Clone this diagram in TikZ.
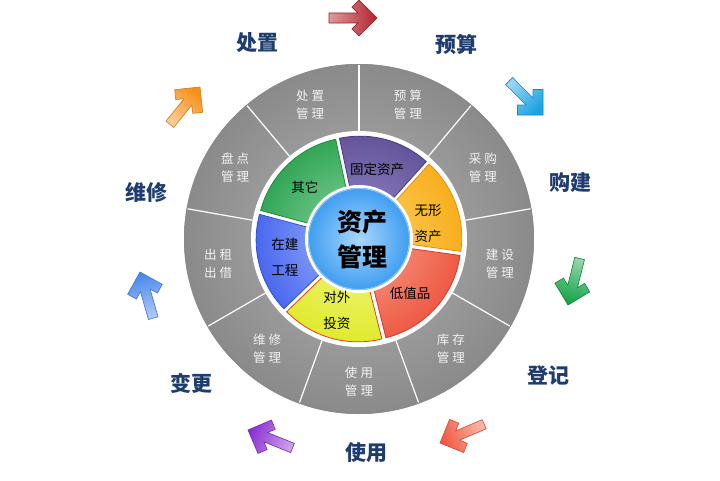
\documentclass[tikz,border=0pt]{standalone}
\usepackage{fontspec}
\usepackage{xcolor}
\usepackage{tikz}
\setmainfont{Noto Sans CJK SC}
\newfontfamily\ringfont[LetterSpace=25]{Noto Sans CJK SC}

\definecolor{ringlight}{HTML}{B2B2B2}
\definecolor{ringdark}{HTML}{8A8A8A}
\definecolor{ringtxt}{HTML}{F2F2F2}
\definecolor{navy}{HTML}{1E3C6E}
\definecolor{corein}{HTML}{A8D6FF}
\definecolor{coreout}{HTML}{3F9EF0}
\definecolor{redarr}{HTML}{B3222C}
\definecolor{cyanarr}{HTML}{1BA3E3}
\definecolor{greenarr}{HTML}{12A244}
\definecolor{coralarr}{HTML}{F2583E}
\definecolor{purparr}{HTML}{8B2FD2}
\definecolor{bluearr}{HTML}{4A88EC}
\definecolor{orngarr}{HTML}{F7901A}

\begin{document}
\begin{tikzpicture}[x=1pt,y=1pt,
  every node/.style={inner sep=0pt,align=center},
  stage/.style={font=\fontsize{21pt}{23pt}\selectfont\bfseries,text=navy},
  ringtext/.style={font=\ringfont\fontsize{12.5pt}{18pt}\selectfont,text=ringtxt},
  pietext/.style={font=\fontsize{13.5pt}{26pt}\selectfont,text=black}]
  \useasboundingbox (-359,-241) rectangle (361,239);
  % gray ring
  \shade[inner color=ringlight,outer color=ringdark] (0,0) circle (175);
  \draw[ringdark,line width=2pt] (0,0) circle (174);
  \fill[white] (0,0) circle (108);
  \foreach \a in {90,50,...,-230}
    \draw[white,line width=1.2pt] (\a:108) -- (\a:174);
  \foreach \a/\t [count=\i] in {110/处置\\管理,70/预算\\管理,30/采购\\管理,
      -10/建设\\管理,-50/库存\\管理,-90/使用\\管理,-130/维修\\管理,
      -170/出租\\出借,150/盘点\\管理}
    \node[ringtext] (ring\i) at (\a:143) {\t};
  % pie
  \foreach \s/\e/\ci/\co/\ce in {48/102/9A8CCB/64549A/4A3C7C,-8/48/FDD668/F8AE1E/E09010,
      -76/-8/F9A490/EE5A44/D83A2A,-136/-76/F2F890/E0EA2C/E83A2A,-195/-136/A8BCFF/4A68EE/2E4ED8,
      102/165/8ED8A4/33A656/1E8A40}{
    \pgfmathsetmacro\m{(\s+\e)/2}
    \definecolor{segin}{HTML}{\ci}
    \definecolor{segout}{HTML}{\co}
    \definecolor{segedge}{HTML}{\ce}
    \begin{scope}
      \clip[shift={(\m:4)}] (0,0) -- (\s:99) arc[start angle=\s,end angle=\e,radius=99] -- cycle;
      \shade[inner color=segin,outer color=segout] (0,0) circle (103);
    \end{scope}
    \draw[segedge,line width=0.8pt,shift={(\m:4)}]
      (0,0) -- (\s:99) arc[start angle=\s,end angle=\e,radius=99] -- cycle;
  }
  % core
  \draw[white,line width=3pt] (0,0) circle (52.5);
  \shade[inner color=corein,outer color=coreout] (0,0) circle (51);
  \draw[corein!70!coreout,line width=1pt] (0,0) circle (50.5);
  \node[font=\fontsize{25pt}{35pt}\selectfont\bfseries] (core) at (3,-0.5) {资产\\管理};
  \node[pietext] (fixed)  at (18,70)     {固定资产};
  \node[pietext] (other)  at (-54,52)    {其它};
  \node[pietext] (intang) at (69,15.5)   {无形\\资产};
  \node[pietext] (lowval) at (51,-54)    {低值品};
  \node[pietext] (invest) at (-22,-71)   {对外\\投资};
  \node[pietext] (build)  at (-74,-18.5) {在建\\工程};
  % stages
  \node[stage] (dispose) at (-101,196) {处置};
  \node[stage] (budget)  at (97,195)   {预算};
  \node[stage] (buy)     at (211,56)   {购建};
  \node[stage] (record)  at (189,-136) {登记};
  \node[stage] (use)     at (8,-214)   {使用};
  \node[stage] (change)  at (-167,-144) {变更};
  \node[stage] (repair)  at (-212,47)  {维修};
  % arrows
  \foreach \x/\y/\ang/\c in {18/221/0/redarr,184/124/-45/cyanarr,
      209/-66/-104/greenarr,81/-204/-157/coralarr,-111/-191/158/purparr,
      -219/-33/106/bluearr,-159/152/51/orngarr}{
    \pgfmathsetmacro\sa{\ang-90}
    \shade[bottom color=\c!45!white,top color=\c,shading angle=\sa,
      draw=\c!85!black,line width=0.6pt,shift={(\x,\y)}]
      (0,0) -- (\ang+135:25.46) -- (\ang+156.44:27.35) -- (\ang+165.36:19.78)
      -- (\ang+174.05:48.26) -- (\ang+185.95:48.26) -- (\ang+194.64:19.78)
      -- (\ang+203.56:27.35) -- (\ang+225:25.46) -- cycle;
  }
\end{tikzpicture}
\end{document}
